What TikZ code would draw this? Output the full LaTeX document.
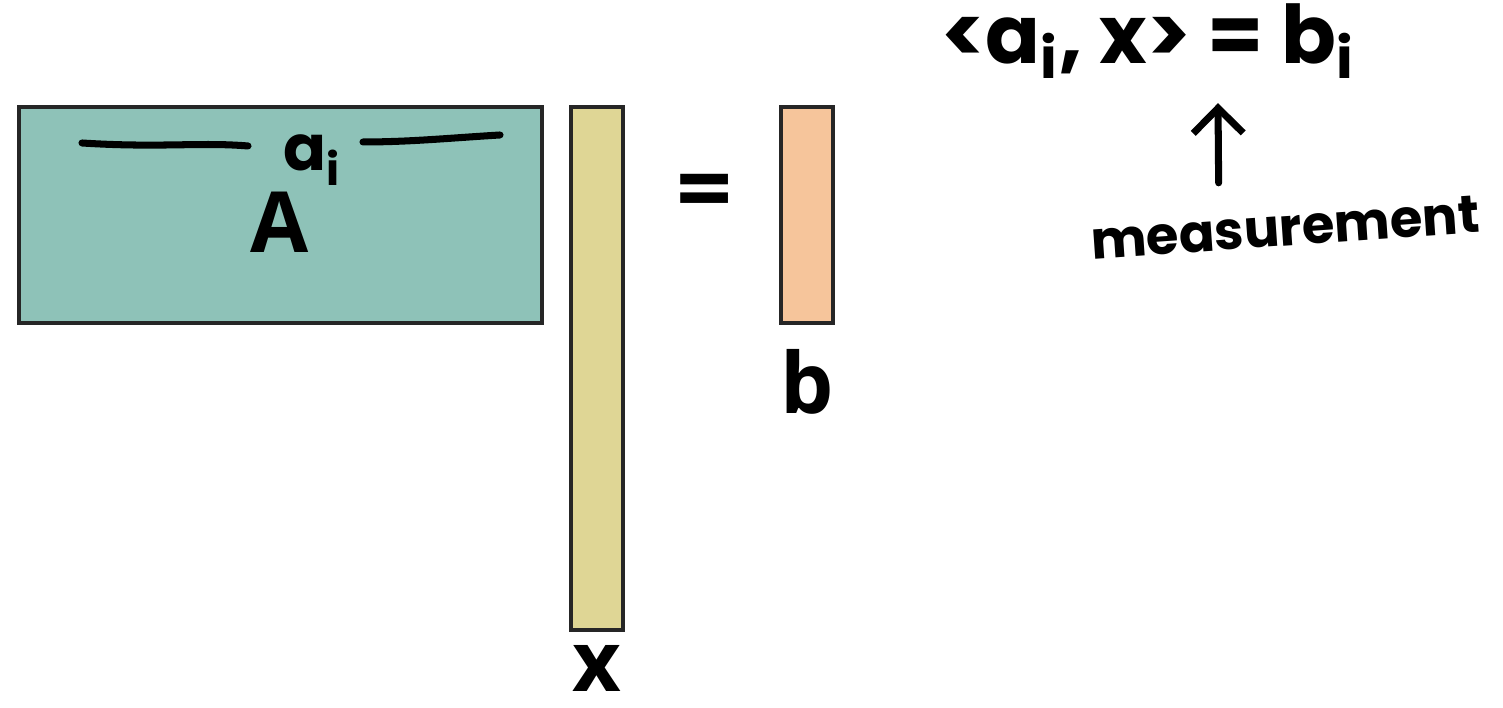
\documentclass[tikz,border=0pt]{standalone}
\usepackage{fontspec}
\setmainfont{Open Sans}
\newfontfamily\hand{Poppins}
\usetikzlibrary{positioning,arrows.meta}

\begin{document}
\begin{tikzpicture}
\tikzset{matbox/.style = {draw=black!85, line width=1pt, inner sep=0pt}}
\tikzset{biglabel/.style = {inner sep=0pt, font=\bfseries\fontsize{24}{28}\selectfont}}
\tikzset{handtext/.style = {inner sep=0pt, font=\hand\bfseries\fontsize{15}{18}\selectfont}}
\tikzset{handline/.style = {line width=2pt, line cap=round}}
\definecolor{colA}{RGB}{142,194,184}
\definecolor{colx}{RGB}{223,214,149}
\definecolor{colb}{RGB}{246,197,155}
\useasboundingbox (0,0) rectangle (15.03,7.08);

    \node[matbox, fill=colA, minimum width=5.23cm, minimum height=2.16cm] (Amat) at (2.805,4.93) {};
    \node[matbox, fill=colx, minimum width=0.52cm, minimum height=5.23cm] (xvec) at (5.97,3.395) {};
    \node[matbox, fill=colb, minimum width=0.52cm, minimum height=2.16cm] (bvec) at (8.07,4.93) {};

    \node[biglabel] (Alab) at (2.80,4.86) {A};
    \node[biglabel, below=0.13cm of xvec] (xlab) {x};
    \node[biglabel, below=0.24cm of bvec] (blab) {b};
    \node[biglabel, font=\bfseries\fontsize{28}{32}\selectfont] (eq) at (7.05,5.09) {=};

% row of A
    \node[handtext, font=\hand\bfseries\fontsize{18}{20}\selectfont] (ai) at (3.12,5.48) {a\textsubscript{i}};
    \coordinate (rowL) at (0.82,5.65);
    \coordinate (rowR) at (5.00,5.73);
\draw[handline] (rowL) .. controls (1.6,5.60) and (2.0,5.66) .. (2.48,5.62);
\draw[handline] (3.63,5.66) .. controls (4.1,5.66) and (4.5,5.70) .. (rowR);

% inner product
    \node[handtext, font=\hand\bfseries\fontsize{23}{26}\selectfont] (ipr) at (11.48,6.67) {<a\textsubscript{i}, x> = b\textsubscript{i}};
    \node[handtext, rotate=4] (meas) at (12.85,4.80) {measurement};
\draw[handline, -{Straight Barb[length=2.5mm,width=5mm]}] ([xshift=-6.5mm,yshift=2.6mm]meas.north) -- ([xshift=7mm,yshift=-2.4mm]ipr.south);

\end{tikzpicture}
\end{document}
